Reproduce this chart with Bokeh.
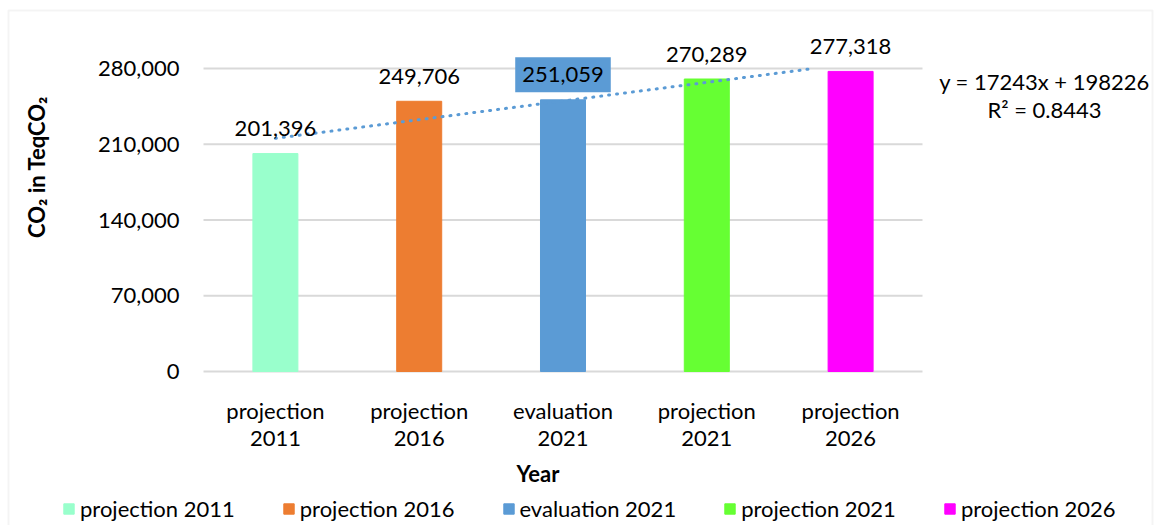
from math import pi
from bokeh.plotting import figure
from bokeh.models import (ColumnDataSource, Range1d, Label, Legend, LegendItem, BoxAnnotation)
from bokeh.core.properties import value
from bokeh.embed import file_html
from bokeh.resources import INLINE

# Emission series
categories = ["projection 2011", "projection 2016", "evaluation 2021", "projection 2021", "projection 2026"]
tick_labels = ["projection\n2011", "projection\n2016", "evaluation\n2021", "projection\n2021", "projection\n2026"]
emissions = [201396, 249706, 251059, 270289, 277318]
bar_colors = ["#99FFCC", "#ED7D31", "#5B9BD5", "#66FF33", "#FF00FF"]

# Linear trend (x = category index 1..5)
trend_slope = 17243
trend_intercept = 198226
trend_r2 = 0.8443

y_ticks = [0, 70000, 140000, 210000, 280000]
y_max = y_ticks[-1]

FONT = "Lato"
FS = "22px"
TEXT = "#000000"
GRID = "#D9D9D9"
BLUE = "#5B9BD5"

# canvas and plotting-area geometry (pixels)
W, H = 1154, 525
AREA_L, AREA_R, AREA_T, AREA_B = 203, 922, 68, 371

n = len(categories)
positions = list(range(1, n + 1))
ux = n / (AREA_R - AREA_L)
uy = y_max / (AREA_B - AREA_T)
x_range = Range1d(0.5 - AREA_L * ux, n + 0.5 + (W - AREA_R) * ux)
y_range = Range1d(-(H - AREA_B) * uy, y_max + AREA_T * uy)

p = figure(width=W, height=H, output_backend="svg", toolbar_location=None,
           x_range=x_range, y_range=y_range, x_axis_location=None, y_axis_location=None,
           min_border=0)
p.outline_line_color = None
p.background_fill_color = "white"
p.border_fill_color = "white"
p.xgrid.visible = False
p.ygrid.visible = False

# horizontal gridlines (the zero line doubles as the category axis)
p.segment(x0=0.5, x1=n + 0.5, y0=y_ticks, y1=y_ticks, line_color=GRID, line_width=2)

src = ColumnDataSource(dict(x=positions, top=emissions, color=bar_colors, name=categories))
bars = p.vbar(x="x", top="top", width=0.313, color="color", source=src)

# trend line, stopped where it reaches the value-axis maximum
t_end = min(positions[-1], (y_max - trend_intercept) / trend_slope)
tx = [positions[0], t_end]
ty = [trend_slope * v + trend_intercept for v in tx]
p.line(tx, ty, line_color=BLUE, line_width=3, line_dash="1 7", line_cap="round")

# value-axis tick labels
p.text(x=[0.5] * len(y_ticks), y=y_ticks, text=[f"{v:,}" for v in y_ticks],
       x_offset=-24, text_align="right", text_baseline="middle",
       text_font=value(FONT), text_font_size=FS, text_color=TEXT)

# category tick labels (two lines each)
first = [t.split("\n")[0] for t in tick_labels]
second = [t.split("\n")[1] for t in tick_labels]
p.text(x=positions, y=[0] * n, text=first, y_offset=39, text_align="center",
       text_baseline="middle", text_font=value(FONT), text_font_size=FS, text_color=TEXT)
p.text(x=positions, y=[0] * n, text=second, y_offset=67, text_align="center",
       text_baseline="middle", text_font=value(FONT), text_font_size=FS, text_color=TEXT)

# axis titles
p.add_layout(Label(x=3, y=0, x_offset=-25, y_offset=-102, text="Year",
                   text_align="center", text_baseline="middle", text_font=FONT,
                   text_font_size=FS, text_font_style="bold", text_color=TEXT))
p.add_layout(Label(x=0.5, y=y_max / 2, x_offset=-167, y_offset=53, angle=pi / 2,
                   text="CO\u2082 in TeqCO\u2082", text_align="center", text_baseline="middle",
                   text_font=FONT, text_font_size=FS, text_font_style="bold", text_color=TEXT))

# value labels
for xv, v, c in zip(positions, emissions, categories):
    lab = Label(x=xv, y=v, text=f"{v:,}", y_offset=25, text_align="center",
                text_baseline="middle", text_font=FONT, text_font_size=FS, text_color=TEXT)
    if c == "evaluation 2021":
        lab.background_fill_color = BLUE
        lab.padding = dict(x=7, y=10)
    p.add_layout(lab)

# trend equation
p.add_layout(Label(x=n + 0.5, y=y_max, x_offset=122, y_offset=-13,
                   text=f"y = {trend_slope}x + {trend_intercept}", text_align="center",
                   text_baseline="middle", text_font=FONT, text_font_size=FS, text_color=TEXT))
p.add_layout(Label(x=n + 0.5, y=y_max, x_offset=122, y_offset=-41,
                   text=f"R\u00b2 = {trend_r2}", text_align="center",
                   text_baseline="middle", text_font=FONT, text_font_size=FS, text_color=TEXT))

# legend
items = [LegendItem(label=c, renderers=[bars], index=i) for i, c in enumerate(categories)]
legend = Legend(items=items, orientation="horizontal", location=(62, 3),
                glyph_width=13, glyph_height=13, label_standoff=5, spacing=47,
                padding=0, margin=0, border_line_color=None, background_fill_alpha=0,
                label_text_font=FONT, label_text_font_size=FS, label_text_color=TEXT)
p.add_layout(legend)

# chart border
p.add_layout(BoxAnnotation(left=8, right=1152, top=10, bottom=700,
                           left_units="canvas", right_units="canvas",
                           top_units="canvas", bottom_units="canvas",
                           fill_color=None, line_color=GRID, line_width=2))

open("out.html", "w").write(file_html(p, INLINE))
